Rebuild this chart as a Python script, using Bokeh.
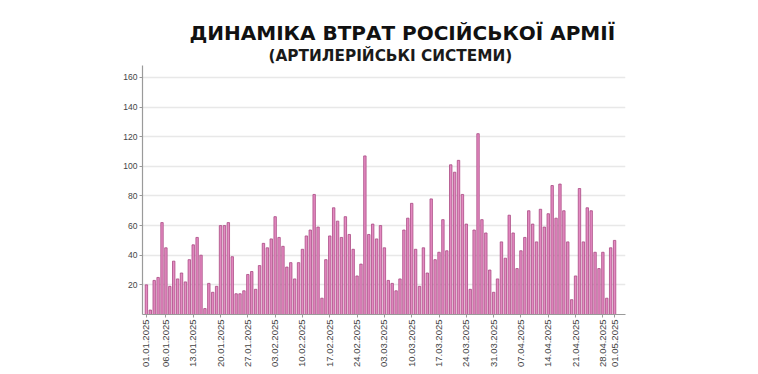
import pandas as pd
from math import pi
from bokeh.plotting import figure
from bokeh.models import ColumnDataSource, FixedTicker, Title
from bokeh.embed import file_html
from bokeh.resources import INLINE

# Daily losses of artillery systems, 01.01.2025 - 01.05.2025
start_date = "2025-01-01"
end_date = "2025-05-01"
losses = [
    20, 3, 23, 25, 62, 45, 19, 36, 24, 28, 22, 37, 47, 52, 40, 4, 21, 15, 19, 60,
    60, 62, 39, 14, 14, 16, 27, 29, 17, 33, 48, 45, 51, 66, 52, 46, 32, 35, 24, 35,
    44, 53, 57, 81, 59, 11, 37, 53, 72, 63, 52, 66, 54, 44, 26, 34, 107, 54, 61, 51,
    60, 45, 23, 21, 16, 24, 57, 65, 75, 44, 19, 45, 28, 78, 37, 42, 64, 43, 101, 96,
    104, 81, 61, 17, 57, 122, 64, 55, 30, 15, 24, 49, 38, 67, 55, 31, 43, 52, 70, 61,
    49, 71, 59, 68, 87, 65, 88, 70, 49, 10, 26, 85, 49, 72, 70, 42, 31, 42, 11, 45,
    50,
]
tick_dates = ["01.01.2025", "06.01.2025", "13.01.2025", "20.01.2025", "27.01.2025",
              "03.02.2025", "10.02.2025", "17.02.2025", "24.02.2025", "03.03.2025",
              "10.03.2025", "17.03.2025", "24.03.2025", "31.03.2025", "07.04.2025",
              "14.04.2025", "21.04.2025", "28.04.2025", "01.05.2025"]
y_ticks = [20, 40, 60, 80, 100, 120, 140, 160]

title_text = "ДИНАМІКА ВТРАТ РОСІЙСЬКОЇ АРМІЇ"
subtitle_text = "(АРТИЛЕРІЙСЬКІ СИСТЕМИ)"

days = pd.date_range(start_date, end_date, freq="D")
t0 = pd.Timestamp(start_date)
day_idx = [(d - t0).days for d in days]
src = ColumnDataSource(dict(day=day_idx, losses=losses))

tick_pos = [(pd.to_datetime(s, format="%d.%m.%Y") - t0).days for s in tick_dates]

p = figure(width=750, height=372, output_backend="svg", toolbar_location=None,
           x_range=(-1.0, 122.8), y_range=(0, 168),
           min_border_left=142, min_border_right=125, min_border_top=65, min_border_bottom=58)

p.vbar(x="day", top="losses", width=0.62, source=src,
       fill_color="#e48ac2", line_color="#a94a83", line_width=0.8)

p.add_layout(Title(text=subtitle_text, align="left", offset=126,
                   text_font="DejaVu Sans", text_font_style="bold",
                   text_font_size="15.3px", text_color="#1a1a1a", standoff=1), "above")
p.add_layout(Title(text=title_text, align="left", offset=47,
                   text_font="DejaVu Sans", text_font_style="bold",
                   text_font_size="20px", text_color="#111111", standoff=0), "above")

p.background_fill_color = "white"
p.border_fill_color = "white"
p.outline_line_color = None

p.xgrid.grid_line_color = None
p.ygrid.grid_line_color = "#e8e8e8"
p.ygrid.grid_line_width = 1.5

p.yaxis.ticker = FixedTicker(ticks=y_ticks)
p.xaxis.ticker = FixedTicker(ticks=tick_pos)
p.xaxis.major_label_overrides = {pos: lab for pos, lab in zip(tick_pos, tick_dates)}
p.xaxis.major_label_orientation = pi / 2

for ax in (p.xaxis, p.yaxis):
    ax.axis_line_color = "#9a9a9a"
    ax.axis_line_width = 1.2
    ax.major_tick_line_color = "#9a9a9a"
    ax.major_tick_in = 0
    ax.major_tick_out = 3
    ax.minor_tick_line_color = None
    ax.major_label_text_font = "Liberation Sans"
    ax.major_label_text_color = "#444444"
    ax.major_label_standoff = 2

p.yaxis.major_label_text_font_size = "8.5px"
p.xaxis.major_label_text_font_size = "9.5px"

open("out.html", "w").write(file_html(p, INLINE))
